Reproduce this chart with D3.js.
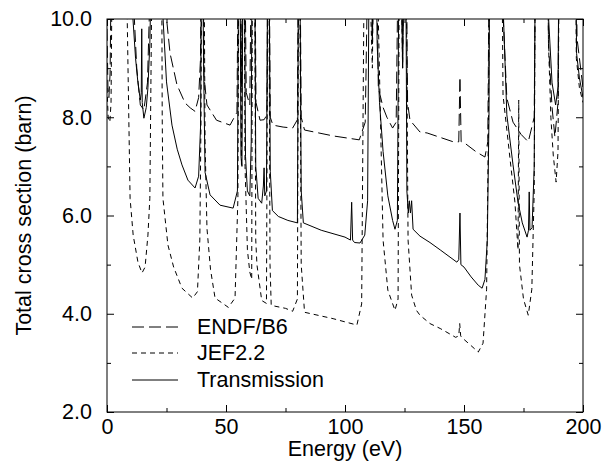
<!DOCTYPE html>
<html><head><meta charset="utf-8">
<script src="https://cdn.jsdelivr.net/npm/d3@7/dist/d3.min.js"></script>
<style>
body{margin:0;background:#fff;}
text{font-family:"Liberation Sans",Arial,sans-serif;fill:#000;}
</style></head>
<body><svg id="c" width="605" height="476"></svg>
<script>
// ---- data (energy eV, cross section barn); values > 10 run off the top of the frame ----
const xTicksMajor = [0, 50, 100, 150, 200];
const xTicksMinor = [25, 75, 125, 175];
const yTicksMajor = [2, 4, 6, 8, 10];
const yTicksMinor = [3, 5, 7, 9];
const legendLabels = ["ENDF/B6", "JEF2.2", "Transmission"];

const endfB6 = [
 [0,9.8],[0.4,8.6],[0.8,8.4],[1.3,8.9],[2,12],[10,12],[11,10.5],[12.5,9.0],[14,8.25],[15.5,8.15],
 [17,8.7],[18.3,11],[19,14],[23,14],[24.4,10.3],[26.5,9.3],[29.4,8.66],[32.8,8.29],[35,8.19],[37,8.12],
 [38.5,8.4],[39.3,9.2],[39.9,14],[40.8,8.8],[42,8.25],[46,7.94],[51.7,7.84],[54.6,8.1],[55.6,14],[56.5,8.6],
 [57.4,14],[58.5,8.5],[60,8.25],[61.2,14],[61.8,14],[62.6,8.3],[64.3,7.94],[66,7.95],[67.2,8.05],[67.8,14],
 [68.6,8.0],[69.7,7.84],[74,7.8],[78,7.78],[80,7.95],[80.7,14],[81.6,8.0],[83,7.74],[95,7.62],[106,7.54],
 [108.5,7.9],[110.5,14],[111.5,9.5],[112.6,14],[114,8.6],[116,8.2],[117.6,8.0],[120,7.78],[121.5,7.9],[123,14],
 [124.2,9],[125.3,14],[126.3,8.3],[127.3,7.94],[131.5,7.7],[134.5,7.68],[145.5,7.5],[147.8,7.5],[148.3,8.82],[148.8,7.5],
 [150.4,7.47],[155,7.3],[158.8,7.19],[160,7.5],[161,14],[165.5,14],[166.5,10],[168,8.39],[170.6,7.9],[174,7.65],
 [177,7.5],[179.5,8],[180.4,14],[184.6,14],[185.5,9.5],[187,8.2],[188.2,7.6],[189.5,8.3],[190.3,14],[196.5,14],
 [197.5,9.6],[200,8.6]
];

const jef22 = [
 [0,8.6],[0.5,8.0],[1.2,7.9],[1.7,8.3],[2.3,12],[7.5,12],[8.4,10.3],[9.7,6.35],[11,5.6],[13,5.05],
 [14.7,4.83],[16,4.95],[17.2,5.6],[18,6.35],[18.7,10],[19.2,14],[22.8,14],[23.2,8],[23.5,6.35],[25.6,5.4],
 [28,4.95],[31.5,4.52],[36,4.32],[38,4.45],[39,5.5],[39.5,8],[40,14],[40.5,14],[41.2,7.5],[42,5.74],
 [43.5,4.9],[45.4,4.32],[51,4.13],[53.8,4.32],[55,6.35],[55.6,14],[56.5,7],[57.4,14],[58,7],[59,5.3],
 [60,4.85],[60.8,4.7],[61.2,14],[61.8,14],[62.5,5.5],[63,5.0],[65,4.27],[67,4.21],[67.8,14],[68.5,5],
 [69,4.17],[75,4.11],[78,4.05],[80,4.3],[80.7,14],[81.6,5],[83,4.03],[95,3.9],[105,3.77],[107,4.2],
 [108.5,14],[111.5,9],[112.6,14],[114,10],[116,5.5],[118,4.48],[121,4.07],[122.3,4.3],[123,14],[124.2,9],
 [125.3,14],[126.5,5.5],[128,4.38],[130,4.07],[131.5,3.97],[135.7,3.8],[140,3.7],[146.5,3.52],[147.8,3.55],[148.2,3.8],
 [148.6,3.55],[149,3.52],[153,3.35],[156,3.22],[158,3.4],[159.5,4.5],[160.3,8],[161,14],[165.5,14],[166.4,8.45],
 [169.3,7.17],[171.4,6.27],[172.7,5.3],[173,8.35],[173.3,5.0],[175,4.3],[177,3.97],[178.5,4.5],[179.5,6.5],[180.2,14],
 [184.6,14],[185.5,9.5],[186.5,8],[187.5,7.23],[188.7,6.68],[189.5,7.3],[190.3,14],[196.5,14],[197.2,9.2],[198.5,8.6],
 [200,8.3]
];

const transmission = [
 [0,14],[9.5,13],[10.5,10.3],[12,9.2],[13,8.7],[14,8.35],[14.4,8.5],[14.6,9.8],[14.8,8.3],[15.5,7.98],
 [16.5,8.2],[17.2,8.6],[18,9.5],[18.6,11],[19,14],[22.5,14],[23,10.5],[25,8.72],[27.3,7.84],[29.5,7.35],
 [31.5,7.03],[34,6.72],[37,6.56],[38.5,6.8],[39.3,7.8],[39.9,13],[40.6,9],[41.2,6.88],[43.3,6.42],[47.5,6.21],
 [53,6.15],[54.8,6.5],[55.6,14],[56.3,7.2],[56.7,7.0],[57.4,14],[58.2,7.2],[59,6.5],[60,6.4],[60.6,7.5],
 [61.2,14],[61.8,14],[62.5,7.0],[63.5,6.35],[65,6.25],[65.7,6.6],[66,6.97],[66.3,6.4],[67,6.5],[67.8,14],
 [68.6,6.9],[69.5,6.1],[72,5.98],[76,5.9],[80,5.85],[80.7,14],[81.6,6.5],[82.5,5.85],[90,5.7],[100,5.56],
 [102.3,5.5],[102.8,6.27],[103.2,5.5],[104,5.45],[106.3,5.44],[108.3,5.6],[109.5,6.3],[110.5,14],[111.5,9.5],[112.6,14],
 [113.5,9.5],[114.5,8.3],[116,7.3],[118,6.4],[120,5.9],[121,5.72],[122,5.9],[123,14],[124.2,9],[125.3,14],
 [126,6.5],[126.6,6.05],[127,6.3],[127.5,6.05],[128,6.3],[128.6,5.72],[131.5,5.58],[135.7,5.45],[140,5.3],[147,5.05],
 [147.8,5.1],[148.3,6.05],[148.7,5.0],[150,4.95],[153,4.75],[156,4.58],[157.6,4.52],[158.8,4.7],[159.8,5.5],[160.5,8],
 [161,14],[165.5,14],[166.4,10.3],[168,8.05],[170.6,7.03],[172.7,6.27],[174.5,5.85],[176.5,5.56],[177.1,5.7],[177.4,6.48],
 [177.7,5.7],[178.6,5.75],[179.5,7],[180.2,14],[184.6,14],[185,10.5],[187,8.7],[188.5,8.25],[189.5,8.6],[190.3,14],
 [196.5,14],[197.3,9.3],[198.5,8.8],[200,8.4]
];

// ---- layout ----
const svg = d3.select("#c");
const L = 107, R = 583, T = 19, B = 412;
const x = d3.scaleLinear().domain([0, 200]).range([L, R]);
const y = d3.scaleLinear().domain([2, 10]).range([B, T]);
const fs = 21.5;

svg.append("defs").append("clipPath").attr("id", "clip")
  .append("rect").attr("x", L).attr("y", T).attr("width", R - L).attr("height", B - T);

const line = d3.line().x(d => x(d[0])).y(d => y(d[1]));
const series = [
  {data: endfB6, dash: "12,5"},
  {data: jef22, dash: "5,4"},
  {data: transmission, dash: null}
];
const g = svg.append("g").attr("clip-path", "url(#clip)");
series.forEach(s => {
  g.append("path").datum(s.data).attr("d", line)
    .attr("fill", "none").attr("stroke", "#000").attr("stroke-width", 1)
    .attr("stroke-dasharray", s.dash);
});

// axes (ticks inward, mirrored)
const fmt = d3.format(".1f");
const axB = d3.axisBottom(x).tickValues(xTicksMajor).tickSizeInner(-7).tickSizeOuter(0).tickPadding(7).tickFormat(d3.format("d"));
const axBm = d3.axisBottom(x).tickValues(xTicksMinor).tickSizeInner(-4).tickSizeOuter(0).tickFormat("");
const axT = d3.axisTop(x).tickValues(xTicksMajor).tickSizeInner(-7).tickSizeOuter(0).tickFormat("");
const axTm = d3.axisTop(x).tickValues(xTicksMinor).tickSizeInner(-4).tickSizeOuter(0).tickFormat("");
const axL = d3.axisLeft(y).tickValues(yTicksMajor).tickSizeInner(-7).tickSizeOuter(0).tickPadding(15).tickFormat(fmt);
const axLm = d3.axisLeft(y).tickValues(yTicksMinor).tickSizeInner(-4).tickSizeOuter(0).tickFormat("");
const axR = d3.axisRight(y).tickValues(yTicksMajor).tickSizeInner(-7).tickSizeOuter(0).tickFormat("");
const axRm = d3.axisRight(y).tickValues(yTicksMinor).tickSizeInner(-4).tickSizeOuter(0).tickFormat("");

[[axB, `translate(0,${B})`], [axBm, `translate(0,${B})`], [axT, `translate(0,${T})`], [axTm, `translate(0,${T})`],
 [axL, `translate(${L},0)`], [axLm, `translate(${L},0)`], [axR, `translate(${R},0)`], [axRm, `translate(${R},0)`]]
 .forEach(([ax, tr]) => {
   const a = svg.append("g").attr("transform", tr).call(ax);
   a.select(".domain").remove();
   a.selectAll("line").attr("stroke", "#000");
   a.selectAll("text").attr("font-size", fs).attr("font-family", "Liberation Sans, Arial, sans-serif").attr("fill", "#000");
 });

svg.append("rect").attr("x", L).attr("y", T).attr("width", R - L).attr("height", B - T)
  .attr("fill", "none").attr("stroke", "#000").attr("stroke-width", 1);

// axis titles
svg.append("text").attr("x", (L + R) / 2).attr("y", 456).attr("text-anchor", "middle")
  .attr("font-size", fs).text("Energy (eV)");
svg.append("text").attr("transform", `translate(31,${(T + B) / 2}) rotate(-90)`).attr("text-anchor", "middle")
  .attr("font-size", fs).text("Total cross section (barn)");

// legend
const legY = [327, 353, 380];
legendLabels.forEach((lab, i) => {
  svg.append("line").attr("x1", 132).attr("x2", 178).attr("y1", legY[i]).attr("y2", legY[i])
    .attr("stroke", "#000").attr("stroke-width", 1).attr("stroke-dasharray", series[i].dash);
  svg.append("text").attr("x", 197).attr("y", legY[i] + 7).attr("font-size", fs).text(lab);
});
</script></body></html>
